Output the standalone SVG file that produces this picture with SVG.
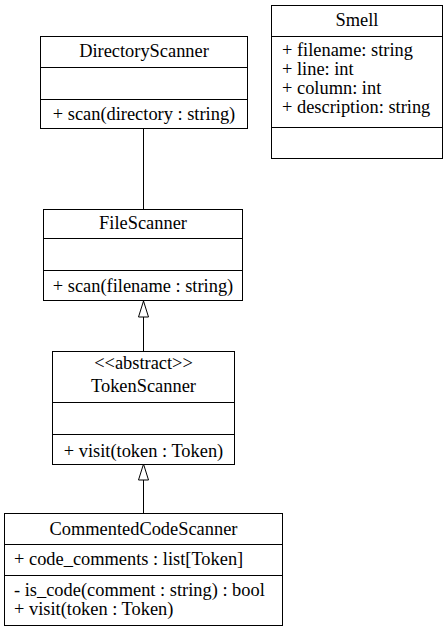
<svg xmlns="http://www.w3.org/2000/svg" width="447" height="632" viewBox="0 0 447 632">
<defs>
<style>
.box{fill:#fff;stroke:#000;stroke-width:1}
.sep{stroke:#000;stroke-width:1}
.t{font-family:'Liberation Serif','Times New Roman','DejaVu Serif',serif;font-size:18.4px;fill:#000}
.c{text-anchor:middle}
.edge{stroke:#000;stroke-width:1;fill:none}
</style>
<marker id="tri" markerUnits="userSpaceOnUse" markerWidth="18" markerHeight="12" viewBox="-1 -1 18 12" refX="16" refY="5" orient="auto">
<path d="M0,0 L16,5 L0,10 Z" fill="#fff" stroke="#000" stroke-width="1"/>
</marker>
</defs>
<rect width="447" height="632" fill="#fff"/>
<g id="connectors">
<path class="edge" d="M143.5,128.5 L143.5,209.5"/>
<path class="edge" d="M143.5,351.5 L143.5,301" marker-end="url(#tri)"/>
<path class="edge" d="M143.5,513.5 L143.5,464" marker-end="url(#tri)"/>
</g>
<g class="t" font-family="'Liberation Serif', 'Times New Roman', serif">
<g id="DirectoryScanner">
<rect class="box" x="40.5" y="36.5" width="207" height="92"/>
<line class="sep" x1="40.5" y1="67.5" x2="247.5" y2="67.5"/>
<line class="sep" x1="40.5" y1="99.5" x2="247.5" y2="99.5"/>
<text class="c" x="144" y="57">DirectoryScanner</text>
<text class="c" x="144" y="119.5">+ scan(directory : string)</text>
</g>
<g id="Smell">
<rect class="box" x="271.5" y="5.5" width="171" height="153"/>
<line class="sep" x1="271.5" y1="36.5" x2="442.5" y2="36.5"/>
<line class="sep" x1="271.5" y1="127.5" x2="442.5" y2="127.5"/>
<text class="c" x="357" y="26">Smell</text>
<text x="282" y="56">+ filename: string</text>
<text x="282" y="75">+ line: int</text>
<text x="282" y="94">+ column: int</text>
<text x="282" y="113">+ description: string</text>
</g>
<g id="FileScanner">
<rect class="box" x="43.5" y="209.5" width="199" height="91"/>
<line class="sep" x1="43.5" y1="238.5" x2="242.5" y2="238.5"/>
<line class="sep" x1="43.5" y1="270.5" x2="242.5" y2="270.5"/>
<text class="c" x="143" y="228.5">FileScanner</text>
<text class="c" x="143" y="291.5">+ scan(filename : string)</text>
</g>
<g id="TokenScanner">
<rect class="box" x="52.5" y="351.5" width="182" height="113"/>
<line class="sep" x1="52.5" y1="402.5" x2="234.5" y2="402.5"/>
<line class="sep" x1="52.5" y1="434.5" x2="234.5" y2="434.5"/>
<text class="c" x="143.5" y="368.5">&lt;&lt;abstract&gt;&gt;</text>
<text class="c" x="143.5" y="391.5">TokenScanner</text>
<text class="c" x="143.5" y="456.5">+ visit(token : Token)</text>
</g>
<g id="CommentedCodeScanner">
<rect class="box" x="4.5" y="513.5" width="278" height="112"/>
<line class="sep" x1="4.5" y1="544.5" x2="282.5" y2="544.5"/>
<line class="sep" x1="4.5" y1="575.5" x2="282.5" y2="575.5"/>
<text class="c" x="143.5" y="535">CommentedCodeScanner</text>
<text x="14" y="565">+ code_comments : list[Token]</text>
<text x="14" y="596">- is_code(comment : string) : bool</text>
<text x="14" y="615">+ visit(token : Token)</text>
</g>
</g>
</svg>
